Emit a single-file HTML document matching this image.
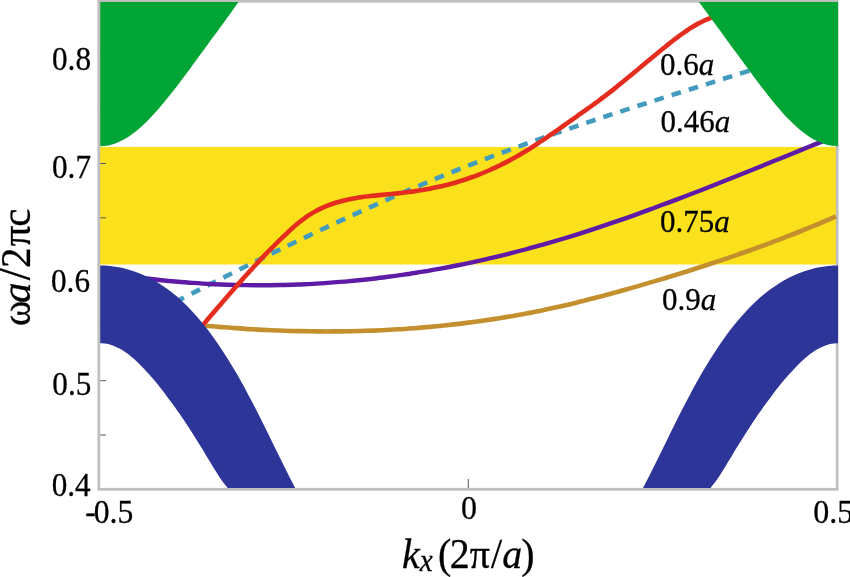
<!DOCTYPE html>
<html><head><meta charset="utf-8"><title>Band diagram</title>
<style>
html,body{margin:0;padding:0;background:#fff;}
body{width:850px;height:577px;overflow:hidden;position:relative;}
svg{position:absolute;left:0;top:0;display:block;}
text{font-family:"Liberation Serif",serif;fill:#000;stroke:#000;stroke-width:0.3px;}
.i{font-style:italic;}
</style></head><body>
<svg width="850" height="577" viewBox="0 0 850 577">
<rect x="0" y="0" width="850" height="577" fill="#fff"/>
<rect x="100" y="146.9" width="736.5" height="117.6" fill="#FBE01C"/>
<rect x="98.85" y="1.2" width="738.3" height="488.1" fill="none" stroke="#BFBFBF" stroke-width="2.8"/>
<g stroke="#555" stroke-width="1" fill="none"><line x1="100.3" y1="435" x2="106" y2="435"/><line x1="100.3" y1="380.7" x2="106" y2="380.7"/><line x1="100.3" y1="326.4" x2="106" y2="326.4"/><line x1="100.3" y1="272.1" x2="106" y2="272.1"/><line x1="100.3" y1="217.8" x2="106" y2="217.8"/><line x1="100.3" y1="163.5" x2="106" y2="163.5"/><line x1="100.3" y1="109.2" x2="106" y2="109.2"/><line x1="100.3" y1="54.9" x2="106" y2="54.9"/><line x1="468.3" y1="479" x2="468.3" y2="488"/></g>
<g fill="none" stroke-linecap="butt" stroke-linejoin="round">
<path d="M176 301.7C179.3 300 189.3 294.8 196 291.4C202.7 288 209.3 284.6 216 281.3C222.7 277.9 229.3 274.6 236 271.2C242.7 267.9 249.3 264.6 256 261.3C262.7 258 269.3 254.7 276 251.4C282.7 248.2 289.3 245 296 241.8C302.7 238.5 309.3 235.4 316 232.2C322.7 229 329.3 225.9 336 222.8C342.7 219.7 349.3 216.6 356 213.6C362.7 210.6 369.3 207.5 376 204.6C382.7 201.6 389.3 198.6 396 195.7C402.7 192.8 409.3 189.9 416 187.1C422.7 184.3 429.3 181.5 436 178.7C442.7 175.9 449.3 173.2 456 170.5C462.7 167.8 469.3 165.2 476 162.6C482.7 160 489.3 157.4 496 154.9C502.7 152.4 509.3 149.9 516 147.5C522.7 145 529.3 142.6 536 140.3C542.7 137.9 549.3 135.5 556 133.2C562.7 130.9 569.3 128.6 576 126.4C582.7 124.1 589.3 121.9 596 119.6C602.7 117.4 609.3 115.2 616 113C622.7 110.9 629.3 108.7 636 106.5C642.7 104.4 649.3 102.3 656 100.1C662.7 98 669.3 95.9 676 93.8C682.7 91.7 689.3 89.6 696 87.5C702.7 85.4 709.3 83.3 716 81.2C722.7 79.1 729.3 77 736 74.9C742.7 72.8 752.7 69.6 756 68.6" stroke="#439CBE" stroke-width="4.6" stroke-dasharray="9.7 8.25" stroke-dashoffset="0.7"/>
<path d="M203 325.5C205.7 325.7 213.8 326.5 219.2 326.9C224.6 327.3 230.1 327.8 235.5 328.1C240.9 328.5 246.3 328.9 251.7 329.2C257.1 329.5 262.5 329.8 267.9 330C273.3 330.3 278.7 330.5 284.2 330.7C289.6 330.9 295 331 300.4 331.1C305.8 331.3 311.2 331.3 316.6 331.4C322 331.4 327.4 331.5 332.8 331.4C338.3 331.4 343.7 331.3 349.1 331.2C354.5 331.2 359.9 331 365.3 330.8C370.7 330.7 376.1 330.5 381.5 330.2C386.9 330 392.4 329.7 397.8 329.3C403.2 329 408.6 328.6 414 328.2C419.4 327.8 424.8 327.4 430.2 326.9C435.6 326.4 441.1 325.9 446.5 325.3C451.9 324.7 457.3 324.1 462.7 323.4C468.1 322.7 473.5 322 478.9 321.3C484.3 320.5 489.7 319.7 495.2 318.9C500.6 318 506 317.2 511.4 316.2C516.8 315.3 522.2 314.3 527.6 313.3C533 312.2 538.4 311.2 543.8 310C549.3 308.9 554.7 307.7 560.1 306.5C565.5 305.3 570.9 304 576.3 302.7C581.7 301.4 587.1 300 592.5 298.6C597.9 297.2 603.4 295.7 608.8 294.2C614.2 292.8 619.6 291.3 625 289.7C630.4 288.2 635.8 286.7 641.2 285.1C646.6 283.6 652.1 282 657.5 280.4C662.9 278.8 668.3 277.1 673.7 275.5C679.1 273.8 684.5 272.2 689.9 270.5C695.3 268.7 700.7 267 706.2 265.3C711.6 263.5 717 261.7 722.4 259.9C727.8 258.1 733.2 256.2 738.6 254.3C744 252.5 749.4 250.5 754.8 248.6C760.3 246.6 765.7 244.6 771.1 242.6C776.5 240.6 781.9 238.5 787.3 236.4C792.7 234.3 798.1 232.2 803.5 230C808.9 227.8 814.4 225.6 819.8 223.3C825.2 221.1 833.3 217.6 836 216.4" stroke="#C4902E" stroke-width="4.6"/>
<path d="M140 277.7C142.9 278.1 151.7 279.1 157.6 279.8C163.5 280.4 169.3 281 175.2 281.5C181 282 186.9 282.5 192.8 282.9C198.6 283.3 204.5 283.7 210.4 284C216.2 284.3 222.1 284.5 227.9 284.7C233.8 284.9 239.7 285 245.5 285.1C251.4 285.2 257.3 285.2 263.1 285.2C269 285.2 274.9 285.1 280.7 285C286.6 284.9 292.4 284.7 298.3 284.5C304.2 284.2 310 284 315.9 283.6C321.8 283.3 327.6 282.9 333.5 282.4C339.4 282 345.2 281.5 351.1 281C356.9 280.4 362.8 279.8 368.7 279.2C374.5 278.5 380.4 277.8 386.3 277C392.1 276.3 398 275.5 403.8 274.6C409.7 273.8 415.6 272.8 421.4 271.9C427.3 270.9 433.2 269.9 439 268.8C444.9 267.8 450.8 266.7 456.6 265.5C462.5 264.3 468.3 263.1 474.2 261.8C480.1 260.6 485.9 259.2 491.8 257.9C497.7 256.5 503.5 255.1 509.4 253.6C515.2 252.1 521.1 250.6 527 249C532.8 247.5 538.7 245.8 544.6 244.2C550.4 242.5 556.3 240.8 562.2 239C568 237.2 573.9 235.4 579.7 233.6C585.6 231.7 591.5 229.8 597.3 227.9C603.2 225.9 609.1 223.9 614.9 221.9C620.8 219.9 626.6 217.9 632.5 215.8C638.4 213.7 644.2 211.6 650.1 209.4C656 207.3 661.8 205.1 667.7 202.9C673.6 200.7 679.4 198.5 685.3 196.3C691.1 194 697 191.7 702.9 189.5C708.7 187.2 714.6 184.9 720.5 182.5C726.3 180.2 732.2 177.9 738.1 175.5C743.9 173.2 749.8 170.8 755.6 168.5C761.5 166.1 767.4 163.7 773.2 161.3C779.1 159 785 156.6 790.8 154.2C796.7 151.8 802.5 149.4 808.4 147C814.3 144.7 823.1 141.1 826 139.9" stroke="#5E1CA6" stroke-width="4.4"/>
<path d="M200 328.4C201 327.3 203.9 323.9 205.8 321.6C207.7 319.4 209.7 317.1 211.6 314.8C213.5 312.6 215.5 310.3 217.4 308C219.3 305.8 221.3 303.5 223.2 301.3C225.1 299.1 227.1 296.8 229 294.6C230.9 292.4 232.9 290.2 234.8 288C236.7 285.8 238.7 283.6 240.6 281.4C242.5 279.3 244.4 277.1 246.4 275C248.3 272.8 250.2 270.7 252.2 268.6C254.1 266.5 256 264.4 258 262.4C259.9 260.3 261.8 258.3 263.8 256.2C265.7 254.2 267.6 252.2 269.6 250.2C271.5 248.3 273.4 246.3 275.4 244.4C277.3 242.5 279.2 240.6 281.2 238.7C283.1 236.8 285 235 287 233.2C288.9 231.4 290.8 229.6 292.8 227.8C294.7 226.1 296.6 224.4 298.6 222.8C300.5 221.2 302.4 219.7 304.4 218.3C306.3 216.9 308.2 215.6 310.2 214.4C312.1 213.2 314 212 316 211C317.9 209.9 319.8 209 321.8 208.1C323.7 207.2 325.6 206.4 327.6 205.6C329.5 204.8 331.4 204.1 333.3 203.5C335.3 202.8 337.2 202.2 339.1 201.7C341.1 201.1 343 200.6 344.9 200.2C346.9 199.7 348.8 199.3 350.7 198.9C352.7 198.5 354.6 198.2 356.5 197.9C358.5 197.5 360.4 197.3 362.3 197C364.3 196.7 366.2 196.5 368.1 196.3C370.1 196 372 195.8 373.9 195.6C375.9 195.4 377.8 195.3 379.7 195.1C381.7 194.9 383.6 194.7 385.5 194.5C387.5 194.4 389.4 194.2 391.3 194C393.3 193.8 395.2 193.6 397.1 193.4C399.1 193.2 401 193 402.9 192.7C404.9 192.5 406.8 192.3 408.7 192C410.7 191.7 412.6 191.5 414.5 191.2C416.4 190.9 418.4 190.6 420.3 190.3C422.2 190 424.2 189.7 426.1 189.3C428 189 430 188.6 431.9 188.2C433.8 187.8 435.8 187.4 437.7 187C439.6 186.6 441.6 186.2 443.5 185.7C445.4 185.2 447.4 184.8 449.3 184.2C451.2 183.7 453.2 183.2 455.1 182.7C457 182.1 459 181.5 460.9 180.9C462.8 180.3 464.8 179.7 466.7 179C468.6 178.4 470.6 177.7 472.5 177C474.4 176.3 476.4 175.6 478.3 174.8C480.2 174.1 482.2 173.3 484.1 172.5C486 171.7 488 170.8 489.9 170C491.8 169.1 493.8 168.2 495.7 167.3C497.6 166.4 499.6 165.5 501.5 164.5C503.4 163.6 505.3 162.6 507.3 161.6C509.2 160.6 511.1 159.5 513.1 158.5C515 157.4 516.9 156.3 518.9 155.2C520.8 154.1 522.7 153 524.7 151.8C526.6 150.6 528.5 149.4 530.5 148.2C532.4 147 534.3 145.8 536.3 144.5C538.2 143.2 540.1 141.9 542.1 140.6C544 139.3 545.9 138 547.9 136.7C549.8 135.4 551.7 134 553.7 132.7C555.6 131.3 557.5 129.9 559.5 128.6C561.4 127.2 563.3 125.8 565.3 124.5C567.2 123.1 569.1 121.7 571.1 120.4C573 119 574.9 117.7 576.9 116.3C578.8 114.9 580.7 113.6 582.7 112.2C584.6 110.9 586.5 109.5 588.4 108.1C590.4 106.8 592.3 105.4 594.2 104C596.2 102.6 598.1 101.2 600 99.7C602 98.3 603.9 96.8 605.8 95.4C607.8 93.9 609.7 92.4 611.6 90.9C613.6 89.3 615.5 87.8 617.4 86.2C619.4 84.7 621.3 83.1 623.2 81.5C625.2 80 627.1 78.4 629 76.8C631 75.2 632.9 73.6 634.8 72C636.8 70.4 638.7 68.8 640.6 67.1C642.6 65.5 644.5 63.9 646.4 62.3C648.4 60.7 650.3 59.1 652.2 57.5C654.2 55.9 656.1 54.3 658 52.7C660 51.1 661.9 49.5 663.8 48C665.8 46.4 667.7 44.9 669.6 43.3C671.6 41.8 673.5 40.3 675.4 38.8C677.3 37.4 679.3 35.9 681.2 34.5C683.1 33.1 685.1 31.8 687 30.5C688.9 29.2 690.9 27.9 692.8 26.8C694.7 25.6 696.7 24.4 698.6 23.4C700.5 22.4 702.5 21.4 704.4 20.5C706.3 19.6 708.3 18.8 710.2 18.1C712.1 17.3 715 16.5 716 16.2" stroke="#E52D1F" stroke-width="4.6"/>
</g>
<g fill="#00A535"><path d="M100.2 2L238.5 2L238.5 2C237.5 3.4 234.5 7.6 232.5 10.4C230.5 13.2 228.5 15.9 226.5 18.7C224.5 21.5 222.5 24.2 220.5 27C218.5 29.8 216.5 32.5 214.5 35.3C212.4 38 210.4 40.8 208.4 43.5C206.4 46.3 204.4 49 202.4 51.8C200.4 54.5 198.4 57.3 196.4 60C194.4 62.7 192.4 65.5 190.4 68.2C188.4 70.9 186.4 73.6 184.4 76.2C182.4 78.9 180.4 81.6 178.4 84.2C176.4 86.8 174.4 89.4 172.4 92C170.4 94.5 168.3 97 166.3 99.5C164.3 101.9 162.3 104.4 160.3 106.7C158.3 109.1 156.3 111.3 154.3 113.6C152.3 115.8 150.3 117.9 148.3 119.9C146.3 122 144.3 123.9 142.3 125.8C140.3 127.6 138.3 129.3 136.3 131C134.3 132.6 132.3 134.1 130.3 135.5C128.3 136.9 126.3 138.1 124.3 139.3C122.2 140.4 120.2 141.4 118.2 142.2C116.2 143.1 114.2 143.8 112.2 144.4C110.2 145 108.2 145.4 106.2 145.7C104.2 146 101.2 146.1 100.2 146.2Z"/><path d="M838 2L699 2L699 2C700 3.4 703 7.5 705.1 10.2C707.1 13 709.1 15.7 711.1 18.5C713.1 21.2 715.1 24 717.1 26.7C719.2 29.4 721.2 32.2 723.2 34.9C725.2 37.7 727.2 40.4 729.2 43.2C731.2 46 733.3 48.7 735.3 51.5C737.3 54.2 739.3 57 741.3 59.8C743.3 62.5 745.3 65.3 747.4 68C749.4 70.7 751.4 73.5 753.4 76.2C755.4 78.9 757.4 81.6 759.4 84.2C761.5 86.9 763.5 89.5 765.5 92.1C767.5 94.7 769.5 97.3 771.5 99.7C773.5 102.2 775.6 104.7 777.6 107C779.6 109.4 781.6 111.7 783.6 113.9C785.6 116.1 787.6 118.2 789.7 120.3C791.7 122.3 793.7 124.2 795.7 126C797.7 127.9 799.7 129.6 801.7 131.2C803.8 132.8 805.8 134.3 807.8 135.7C809.8 137 811.8 138.3 813.8 139.4C815.8 140.5 817.9 141.5 819.9 142.3C821.9 143.2 823.9 143.9 825.9 144.4C827.9 145 829.9 145.5 832 145.7C834 146 837 146.1 838 146.2Z"/></g>
<g fill="#2E3599"><path d="M100.2 265.6C101.3 265.6 104.7 265.6 106.9 265.8C109.2 265.9 111.4 266.1 113.6 266.4C115.9 266.7 118.1 267.1 120.4 267.6C122.6 268 124.9 268.5 127.1 269.2C129.3 269.8 131.6 270.4 133.8 271.2C136.1 272 138.3 272.8 140.5 273.7C142.8 274.7 145 275.7 147.3 276.8C149.5 277.9 151.8 279.1 154 280.3C156.2 281.6 158.5 283 160.7 284.4C163 285.9 165.2 287.4 167.4 289.1C169.7 290.7 171.9 292.5 174.2 294.3C176.4 296.1 178.7 298.1 180.9 300.1C183.1 302.2 185.4 304.3 187.6 306.6C189.9 308.8 192.1 311.2 194.3 313.7C196.6 316.1 198.8 318.7 201.1 321.4C203.3 324.1 205.5 326.9 207.8 329.8C210 332.8 212.3 335.8 214.5 338.9C216.8 342.1 219 345.3 221.2 348.7C223.5 352.1 225.7 355.6 228 359.2C230.2 362.8 232.4 366.5 234.7 370.3C236.9 374.1 239.2 378 241.4 382C243.7 386 245.9 390.2 248.1 394.4C250.4 398.5 252.6 402.8 254.9 407.2C257.1 411.5 259.3 416 261.6 420.4C263.8 424.9 266.1 429.5 268.3 434C270.5 438.6 272.8 443.2 275 447.7C277.3 452.3 279.5 456.9 281.8 461.5C284 466 286.2 470.6 288.5 475C290.7 479.4 294.1 485.8 295.2 488L227.7 488L227.7 488C227 487.1 224.8 484.5 223.3 482.6C221.9 480.6 220.4 478.4 218.9 476.2C217.5 474 216 471.7 214.5 469.3C213.1 467 211.6 464.5 210.2 462.1C208.7 459.7 207.2 457.3 205.8 454.9C204.3 452.4 202.8 450 201.4 447.6C199.9 445.2 198.4 442.8 197 440.5C195.5 438.1 194 435.8 192.6 433.5C191.1 431.2 189.6 428.9 188.2 426.7C186.7 424.4 185.2 422.2 183.8 420C182.3 417.9 180.8 415.7 179.4 413.6C177.9 411.5 176.4 409.4 175 407.3C173.5 405.3 172 403.3 170.6 401.3C169.1 399.3 167.6 397.3 166.2 395.4C164.7 393.4 163.2 391.5 161.8 389.6C160.3 387.8 158.8 385.9 157.4 384.1C155.9 382.3 154.4 380.5 153 378.8C151.5 377.1 150 375.4 148.6 373.7C147.1 372.1 145.6 370.5 144.2 368.9C142.7 367.4 141.2 365.9 139.8 364.4C138.3 363 136.9 361.6 135.4 360.2C133.9 358.9 132.5 357.6 131 356.4C129.5 355.2 128.1 354.1 126.6 353.1C125.1 352 123.7 351 122.2 350.1C120.7 349.2 119.3 348.4 117.8 347.7C116.3 346.9 114.9 346.3 113.4 345.7C111.9 345.2 110.5 344.7 109 344.3C107.5 343.9 106.1 343.7 104.6 343.5C103.1 343.3 100.9 343.2 100.2 343.2Z"/><path d="M838 265.6C836.9 265.6 833.5 265.6 831.3 265.8C829 265.9 826.8 266.1 824.6 266.4C822.3 266.7 820.1 267.1 817.8 267.6C815.6 268 813.3 268.5 811.1 269.2C808.9 269.8 806.6 270.4 804.4 271.2C802.1 272 799.9 272.8 797.7 273.7C795.4 274.7 793.2 275.7 790.9 276.8C788.7 277.9 786.4 279.1 784.2 280.3C782 281.6 779.7 283 777.5 284.4C775.2 285.9 773 287.4 770.8 289.1C768.5 290.7 766.3 292.5 764 294.3C761.8 296.1 759.5 298.1 757.3 300.1C755.1 302.2 752.8 304.3 750.6 306.6C748.3 308.8 746.1 311.2 743.9 313.7C741.6 316.1 739.4 318.7 737.1 321.4C734.9 324.1 732.7 326.9 730.4 329.8C728.2 332.8 725.9 335.8 723.7 338.9C721.4 342.1 719.2 345.3 717 348.7C714.7 352.1 712.5 355.6 710.2 359.2C708 362.8 705.8 366.5 703.5 370.3C701.3 374.1 699 378 696.8 382C694.5 386 692.3 390.2 690.1 394.4C687.8 398.5 685.6 402.8 683.3 407.2C681.1 411.5 678.9 416 676.6 420.4C674.4 424.9 672.1 429.5 669.9 434C667.7 438.6 665.4 443.2 663.2 447.7C660.9 452.3 658.7 456.9 656.4 461.5C654.2 466 652 470.6 649.7 475C647.5 479.4 644.1 485.8 643 488L710.5 488L710.5 488C711.2 487.1 713.4 484.5 714.9 482.6C716.3 480.6 717.8 478.4 719.3 476.2C720.7 474 722.2 471.7 723.7 469.3C725.1 467 726.6 464.5 728 462.1C729.5 459.7 731 457.3 732.4 454.9C733.9 452.4 735.4 450 736.8 447.6C738.3 445.2 739.8 442.8 741.2 440.5C742.7 438.1 744.2 435.8 745.6 433.5C747.1 431.2 748.6 428.9 750 426.7C751.5 424.4 753 422.2 754.4 420C755.9 417.9 757.4 415.7 758.8 413.6C760.3 411.5 761.8 409.4 763.2 407.3C764.7 405.3 766.2 403.3 767.6 401.3C769.1 399.3 770.6 397.3 772 395.4C773.5 393.4 775 391.5 776.4 389.6C777.9 387.8 779.4 385.9 780.8 384.1C782.3 382.3 783.8 380.5 785.2 378.8C786.7 377.1 788.2 375.4 789.6 373.7C791.1 372.1 792.6 370.5 794 368.9C795.5 367.4 797 365.9 798.4 364.4C799.9 363 801.3 361.6 802.8 360.2C804.3 358.9 805.7 357.6 807.2 356.4C808.7 355.2 810.1 354.1 811.6 353.1C813.1 352 814.5 351 816 350.1C817.5 349.2 818.9 348.4 820.4 347.7C821.9 346.9 823.3 346.3 824.8 345.7C826.3 345.2 827.7 344.7 829.2 344.3C830.7 343.9 832.1 343.7 833.6 343.5C835.1 343.3 837.3 343.2 838 343.2Z"/></g>
<text transform="translate(52 69.6) scale(0.9420 1)" font-size="33.1">0.8</text>
<text transform="translate(52 178.2) scale(0.9420 1)" font-size="33.1">0.7</text>
<text transform="translate(51 291.8) scale(0.9420 1)" font-size="33.1">0.6</text>
<text transform="translate(52.3 395.2) scale(0.9420 1)" font-size="33.1">0.5</text>
<text transform="translate(51.7 496.2) scale(0.9420 1)" font-size="33.1">0.4</text>
<text transform="translate(85.3 523.1) scale(0.9565 1)" font-size="33.1"><tspan dx="0 -2.2">-0.5</tspan></text>
<text transform="translate(461 518.5) scale(0.9662 1)" font-size="33.1">0</text>
<text transform="translate(813.3 523.1) scale(0.9662 1)" font-size="33.1">0.5</text>
<text transform="translate(660 75.4) scale(0.9662 1)" font-size="32.1">0.6<tspan class="i">a</tspan></text>
<text transform="translate(660.5 132.2) scale(0.9662 1)" font-size="32.1">0.46<tspan class="i">a</tspan></text>
<text transform="translate(660 232.3) scale(0.9662 1)" font-size="32.1">0.75<tspan class="i">a</tspan></text>
<text transform="translate(662 310.2) scale(0.9662 1)" font-size="32.1">0.9<tspan class="i">a</tspan></text>
<text transform="translate(402 568.3) scale(0.9420 1)" font-size="42.4"><tspan class="i">k</tspan><tspan class="i" font-size="31" dy="2.5">x</tspan><tspan dy="-2.5" dx="5.6 -1.5 0 1.2">(2π/</tspan><tspan class="i">a</tspan><tspan dx="-0.9">)</tspan></text>
<text transform="translate(29.5 325.5) rotate(-90) scale(0.9662 1)" font-size="42.4"><tspan x="-0.6" font-size="39.8">ω</tspan><tspan class="i" x="23.4">a</tspan><tspan x="46.9" font-size="47.6">/</tspan><tspan x="59.6 82 102.2">2πc</tspan></text>
</svg>
</body></html>
